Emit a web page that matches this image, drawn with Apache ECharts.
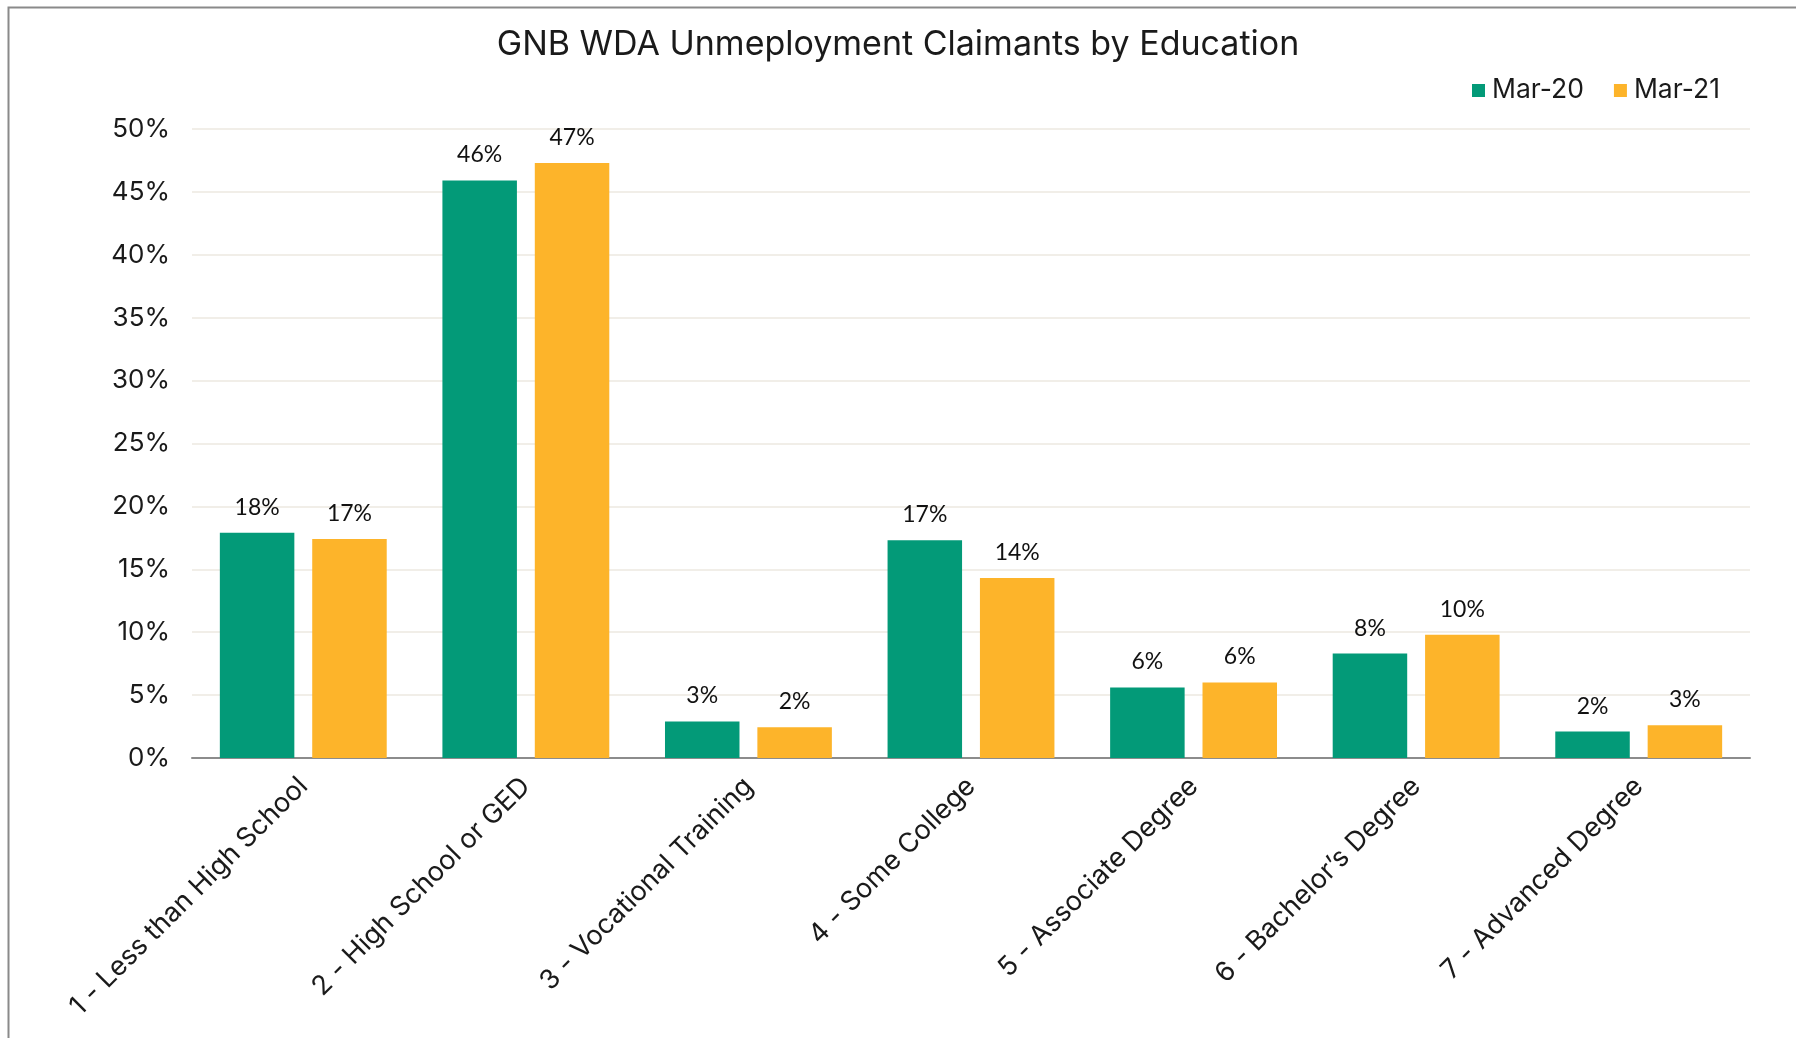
<!DOCTYPE html>
<html>
<head>
<meta charset="utf-8">
<script src="https://cdn.jsdelivr.net/npm/echarts@6/dist/echarts.min.js"></script>
<style>
html,body{margin:0;padding:0;background:#fff;}
#chart{width:1796px;height:1038px;}
</style>
</head>
<body>
<div id="chart"></div>
<script>
const categories = ['1 - Less than High School','2 - High School or GED','3 - Vocational Training','4 - Some College','5 - Associate Degree','6 - Bachelor\u2019s Degree','7 - Advanced Degree'];
const mar20 = [17.9, 45.9, 2.9, 17.3, 5.6, 8.3, 2.1];
const mar21 = [17.4, 47.3, 2.45, 14.3, 6.0, 9.8, 2.6];
const seriesNames = ['Mar-20', 'Mar-21'];
const yTicks = {min: 0, max: 50, interval: 5};
const titleText = 'GNB WDA Unmeployment Claimants by Education';

const axisFont = 'Inter';
const labelFont = 'Lato';
const chart = echarts.init(document.getElementById('chart'));
const dataLabel = {
  show: true, position: 'top', distance: 14,
  fontFamily: labelFont, fontSize: 23, color: '#111',
  formatter: p => Math.round(p.value) + '%'
};
chart.setOption({
  backgroundColor: '#fff',
  animation: false,
  graphic: [{
    type: 'rect', left: 6, top: 5,
    shape: {width: 1820, height: 1060},
    style: {fill: 'none', stroke: '#8a8a8a', lineWidth: 2}
  }],
  title: {
    text: titleText, left: 'center', top: 23,
    textStyle: {fontFamily: axisFont, fontWeight: 'normal', fontSize: 34, color: '#1a1a1a'}
  },
  legend: {
    left: 1467, top: 72, itemWidth: 13, itemHeight: 13, itemGap: 30,
    icon: 'rect',
    textStyle: {fontFamily: axisFont, fontSize: 26.5, color: '#1a1a1a', padding: [0,0,0,2]},
    data: seriesNames
  },
  grid: {left: 192, right: 46, top: 129, bottom: 280},
  xAxis: {
    type: 'category', data: categories,
    axisLine: {lineStyle: {color: '#8c8c8c', width: 2}},
    axisTick: {show: false},
    axisLabel: {rotate: 45, margin: 24, interval: 0, fontFamily: axisFont, fontSize: 27, color: '#1a1a1a'}
  },
  yAxis: {
    type: 'value', min: yTicks.min, max: yTicks.max, interval: yTicks.interval,
    axisLine: {show: false}, axisTick: {show: false},
    splitLine: {lineStyle: {color: '#ECE9E0', width: 1.5}},
    axisLabel: {formatter: '{value}%', margin: 22, fontFamily: axisFont, fontSize: 26, color: '#1a1a1a'}
  },
  series: [
    {name: seriesNames[0], type: 'bar', data: mar20, barWidth: 74.5, barGap: '24%',
     itemStyle: {color: '#039A78'}, label: dataLabel},
    {name: seriesNames[1], type: 'bar', data: mar21, barWidth: 74.5, barGap: '24%',
     itemStyle: {color: '#FDB42A'}, label: dataLabel}
  ]
});
</script>
</body>
</html>
